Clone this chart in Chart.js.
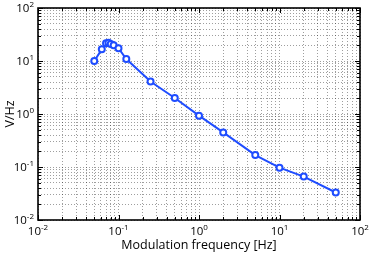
<!DOCTYPE html>
<html>
<head>
<meta charset="utf-8">
<script src="https://cdn.jsdelivr.net/npm/chart.js@4"></script>
<style>
  html, body { margin: 0; padding: 0; background: #fff; }
  #wrap { width: 374px; height: 261px; }
</style>
</head>
<body>
<div id="wrap"><canvas id="chart"></canvas></div>
<script>
// data
const freqs = [0.05, 0.062, 0.07, 0.075, 0.08, 0.087, 0.1, 0.125, 0.25, 0.5, 1, 2, 5, 10, 20, 50];
const response = [10, 16.6, 21.6, 22.1, 20.9, 19.9, 17.4, 10.9, 4.1, 2.0, 0.93, 0.45, 0.168, 0.097, 0.066, 0.033];
const decadeExps = [-2, -1, 0, 1, 2];
const xTitle = 'Modulation frequency [Hz]';
const yTitle = 'V/Hz';
const FONT = '"Open Sans", "DejaVu Sans", sans-serif';

// every 1..9 x 10^n between the first and last decade
function logTicks() {
    const ticks = [];
    for (let i = 0; i < decadeExps.length - 1; i++) {
        for (let m = 1; m <= 9; m++) {
            ticks.push({ value: m * Math.pow(10, decadeExps[i]) });
        }
    }
    ticks.push({ value: Math.pow(10, decadeExps[decadeExps.length - 1]) });
    return ticks;
}

// box, inward ticks and 10^n labels, MATLAB style
const axesBox = {
    id: 'axesBox',
    afterDraw(chart) {
        const ctx = chart.ctx;
        const area = chart.chartArea;
        const xs = chart.scales.x, ys = chart.scales.y;
        ctx.save();
        ctx.strokeStyle = '#000';
        ctx.lineWidth = 1;
        ctx.beginPath();
        xs.ticks.forEach(t => {
            const px = Math.round(xs.getPixelForValue(t.value)) + 0.5;
            const major = Number.isInteger(Math.log10(t.value));
            const len = major ? 5 : 3;
            ctx.moveTo(px, area.bottom); ctx.lineTo(px, area.bottom - len);
            ctx.moveTo(px, area.top); ctx.lineTo(px, area.top + len);
        });
        ys.ticks.forEach(t => {
            const py = Math.round(ys.getPixelForValue(t.value)) + 0.5;
            const major = Number.isInteger(Math.log10(t.value));
            const len = major ? 5 : 3;
            ctx.moveTo(area.left, py); ctx.lineTo(area.left + len, py);
            ctx.moveTo(area.right, py); ctx.lineTo(area.right - len, py);
        });
        ctx.stroke();

        ctx.lineWidth = 1.6;
        ctx.strokeRect(area.left, area.top, area.right - area.left, area.bottom - area.top);

        ctx.fillStyle = '#000';
        ctx.textBaseline = 'alphabetic';
        decadeExps.forEach(e => {
            const v = Math.pow(10, e);
            const sup = String(e);
            ctx.font = '11.5px ' + FONT;
            const wBase = ctx.measureText('10').width;
            ctx.font = '8px ' + FONT;
            const wSup = ctx.measureText(sup).width;

            // x axis label
            const px = xs.getPixelForValue(v);
            const x0 = px - (wBase + wSup) / 2;
            const by = area.bottom + 15;
            ctx.textAlign = 'left';
            ctx.font = '11.5px ' + FONT;
            ctx.fillText('10', x0, by);
            ctx.font = '8px ' + FONT;
            ctx.fillText(sup, x0 + wBase, by - 5);

            // y axis label
            const py = ys.getPixelForValue(v);
            const xr = area.left - 4;
            ctx.font = '8px ' + FONT;
            ctx.fillText(sup, xr - wSup, py - 1);
            ctx.font = '11.5px ' + FONT;
            ctx.fillText('10', xr - wSup - wBase, py + 4);
        });
        ctx.restore();
    }
};

new Chart(document.getElementById('chart'), {
    type: 'line',
    data: {
        datasets: [{
            data: freqs.map((f, i) => ({ x: f, y: response[i] })),
            borderColor: '#1f4dff',
            borderWidth: 2,
            pointRadius: 3,
            pointBorderWidth: 2,
            pointBorderColor: '#1f4dff',
            pointBackgroundColor: '#fff',
            tension: 0
        }]
    },
    plugins: [axesBox],
    options: {
        responsive: true,
        maintainAspectRatio: false,
        animation: false,
        layout: { padding: { top: 8, right: 14, left: 0, bottom: 0 } },
        plugins: { legend: { display: false }, tooltip: { enabled: false } },
        scales: {
            x: {
                type: 'logarithmic',
                min: 0.01,
                max: 100,
                afterBuildTicks: s => { s.ticks = logTicks(); },
                afterFit: s => { s.height = 41; },
                ticks: { display: false },
                grid: { color: 'rgba(0,0,0,0.38)', drawTicks: false },
                border: { display: false, dash: [1, 2] },
                title: { display: true, text: xTitle, color: '#000', font: { family: FONT, size: 12.5 }, padding: { top: 7, bottom: 8 } }
            },
            y: {
                type: 'logarithmic',
                min: 0.01,
                max: 100,
                afterBuildTicks: s => { s.ticks = logTicks(); },
                afterFit: s => { s.width = 38; },
                ticks: { display: false },
                grid: { color: 'rgba(0,0,0,0.38)', drawTicks: false },
                border: { display: false, dash: [1, 2] },
                title: { display: true, text: yTitle, color: '#000', font: { family: FONT, size: 12.5 }, padding: { top: 3, bottom: 0 } }
            }
        }
    }
});
</script>
</body>
</html>
